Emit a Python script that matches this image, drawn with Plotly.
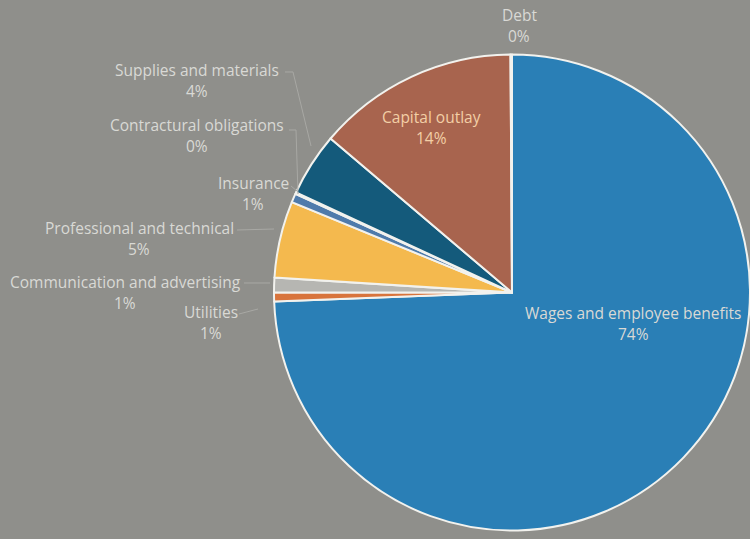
import plotly.graph_objects as go

# Expenditure categories, drawn clockwise from 12 o'clock
categories = [
    "Wages and employee benefits",
    "Utilities",
    "Communication and advertising",
    "Professional and technical",
    "Insurance",
    "Contractural obligations",
    "Supplies and materials",
    "Capital outlay",
    "Debt",
]
shares = [74.4, 0.6, 1.0, 5.2, 0.6, 0.1, 4.3, 13.7, 0.1]
slice_colors = [
    "#2a7fb6", "#d8743c", "#b6b6b2", "#f4b94e", "#4f7bab",
    "#6f8fa8", "#145a7b", "#a8644e", "#e6e6e6",
]

W, H = 750, 539
BG = "#8f8f8b"
TEXT = "#d9d9d5"

# pie placement in pixels
cx, cy, r = 512, 292.5, 238


def px(x):
    return x / W


def py(y):
    return 1 - y / H


fig = go.Figure(
    go.Pie(
        labels=categories,
        values=shares,
        sort=False,
        direction="clockwise",
        rotation=0,
        marker=dict(colors=slice_colors, line=dict(color="#f2f2ee", width=2)),
        textinfo="none",
        hoverinfo="label+percent",
        showlegend=False,
        domain=dict(x=[px(cx - r), px(cx + r)], y=[py(cy + r), py(cy - r)]),
    )
)

# label positions (pixel centres of the two text lines) and leader lines
label_pos = {
    "Wages and employee benefits": (633, 313, None),
    "Utilities": (211, 312, [(239, 314), (258, 309)]),
    "Communication and advertising": (125, 282, [(244, 283), (270, 283)]),
    "Professional and technical": (139, 228, [(237, 230), (274, 229)]),
    "Insurance": (253, 183, [(291, 186), (297, 191)]),
    "Contractural obligations": (197, 125, [(289, 130), (296, 130), (298, 194)]),
    "Supplies and materials": (197, 70, [(285, 72), (293, 72), (311, 146)]),
    "Capital outlay": (432, 117, None),
    "Debt": (519, 15, None),
}

total = sum(shares)
for name, val in zip(categories, shares):
    x, y, leader = label_pos[name]
    color = "#f3cfa6" if name == "Capital outlay" else TEXT
    pct = f"{round(val / total * 100)}%"
    fig.add_annotation(
        x=px(x), y=py(y), xref="paper", yref="paper",
        text=name, showarrow=False, xanchor="center", yanchor="middle",
        font=dict(family="Open Sans", size=15.5, color=color),
    )
    fig.add_annotation(
        x=px(x), y=py(y + 21), xref="paper", yref="paper",
        text=pct, showarrow=False, xanchor="center", yanchor="middle",
        font=dict(family="Open Sans", size=15.5, color=color),
    )
    if leader:
        path = "M " + " L ".join(f"{px(a)},{py(b)}" for a, b in leader)
        fig.add_shape(type="path", path=path, xref="paper", yref="paper",
                      line=dict(color="#a8a8a4", width=1))

fig.update_layout(
    width=W, height=H,
    margin=dict(l=0, r=0, t=0, b=0),
    paper_bgcolor=BG, plot_bgcolor=BG,
)

fig.write_html("out.html")
